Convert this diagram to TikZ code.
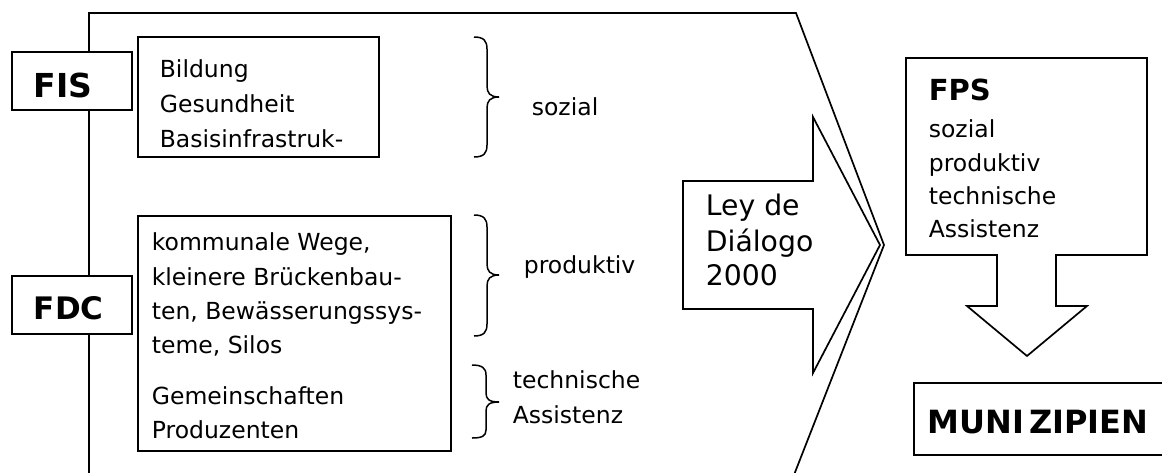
\documentclass[tikz,border=0pt]{standalone}
\usepackage{fontspec}
\setmainfont{DejaVu Sans}
\begin{document}
\begin{tikzpicture}[x=1pt,y=-1pt,line width=1.7pt,line join=miter,
  box/.style={draw,fill=white,inner sep=0pt},
  txt/.style={anchor=base west,inner sep=0pt,font=\fontsize{23.5}{28}\selectfont},
  ley/.style={anchor=base west,inner sep=0pt,font=\fontsize{28.3}{34}\selectfont},
  big/.style={anchor=base west,inner sep=0pt,font=\fontsize{32}{38}\selectfont\bfseries},
  bracepath/.style={line width=1.5pt}]
\useasboundingbox (0,0) rectangle (1162,472);
% outer pentagon shape
\draw (89,480) -- (89,13) -- (796,13) -- (884,245) -- (792,480);
% left boxes
\node[box,minimum width=120pt,minimum height=58pt] (fis) at (72,81) {};
\node[big,font=\fontsize{33}{38}\selectfont\bfseries] (fist) at (33,97) {FIS};
\node[box,minimum width=120pt,minimum height=58pt] (fdc) at (72,305) {};
\node[big,font=\fontsize{31}{38}\selectfont\bfseries] (fdct) at (33,319) {FDC};
% top content box
\node[box,minimum width=241pt,minimum height=120pt] (bild) at (258.5,97) {};
\node[txt] (b1) at (159,77) {Bildung};
\node[txt] (b2) at (159,112) {Gesundheit};
\node[txt] (b3) at (159,147) {Basisinfrastruk-};
% lower content box
\node[box,minimum width=313pt,minimum height=235pt] (komm) at (294.5,333.5) {};
\node[txt] (k1) at (151,250) {kommunale Wege,};
\node[txt] (k2) at (151,285) {kleinere Brückenbau-};
\node[txt] (k3) at (151,319) {ten, Bewässerungssys-};
\node[txt] (k4) at (151,353) {teme, Silos};
\node[txt] (k5) at (151,404) {Gemeinschaften};
\node[txt] (k6) at (151,438) {Produzenten};
% braces
\draw[bracepath] (474,37) .. controls (484,37) and (487,41) .. (487,49) -- (487,86)
  .. controls (487,93) and (490,97) .. (499,97) .. controls (490,97) and (487,101) .. (487,108)
  -- (487,145) .. controls (487,153) and (484,157) .. (474,157);
\node[txt] (soz) at (531,115) {sozial};
\draw[bracepath] (474,215) .. controls (484,215) and (487,219) .. (487,227) -- (487,264)
  .. controls (487,271) and (490,275) .. (499,275) .. controls (490,275) and (487,279) .. (487,286)
  -- (487,324) .. controls (487,332) and (484,336) .. (474,336);
\node[txt] (prod) at (523,273) {produktiv};
\draw[bracepath] (472,365) .. controls (482,365) and (486,368) .. (486,375) -- (486,393)
  .. controls (486,399) and (489,402) .. (499,402) .. controls (489,402) and (486,405) .. (486,411)
  -- (486,430) .. controls (486,436) and (482,438) .. (472,438);
\node[txt] (tech1) at (512,388) {technische};
\node[txt] (tech2) at (512,423) {Assistenz};
% Ley de Dialogo arrow
\draw (683,181) -- (813,181) -- (813,117) -- (880,245) -- (813,373) -- (813,309) -- (683,309) -- cycle;
\node[ley] (ley1) at (705,215) {Ley de};
\node[ley] (ley2) at (705,251) {Diálogo};
\node[ley] (ley3) at (705,285) {2000};
% FPS down arrow
\draw (906,58) -- (1147,58) -- (1147,255) -- (1056,255) -- (1056,306) -- (1087,306)
  -- (1027,356) -- (967,306) -- (997,306) -- (997,255) -- (906,255) -- cycle;
\node[big,font=\fontsize{29}{34}\selectfont\bfseries] (fps) at (928,100) {FPS};
\node[txt] (f1) at (928,137) {sozial};
\node[txt] (f2) at (928,171) {produktiv};
\node[txt] (f3) at (928,204) {technische};
\node[txt] (f4) at (928,237) {Assistenz};
% Munizipien
\draw (1175,383) -- (914,383) -- (914,455) -- (1175,455);
\node[big] (mun) at (927,433) {MUNI\kern5pt ZIPIEN};
\end{tikzpicture}
\end{document}
